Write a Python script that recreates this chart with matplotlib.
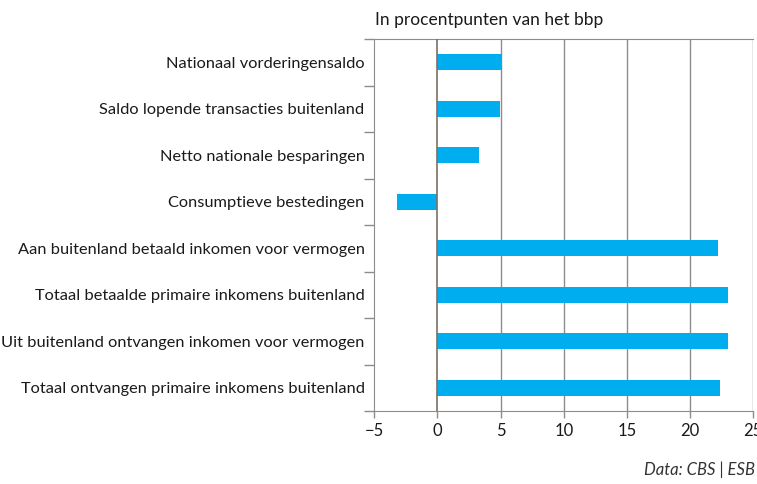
import numpy as np
import matplotlib.pyplot as plt

categories = [
    "Nationaal vorderingensaldo",
    "Saldo lopende transacties buitenland",
    "Netto nationale besparingen",
    "Consumptieve bestedingen",
    "Aan buitenland betaald inkomen voor vermogen",
    "Totaal betaalde primaire inkomens buitenland",
    "Uit buitenland ontvangen inkomen voor vermogen",
    "Totaal ontvangen primaire inkomens buitenland",
]
values = [5.1, 4.95, 3.3, -3.2, 22.2, 23.0, 23.0, 22.4]
xticks = [-5, 0, 5, 10, 15, 20, 25]

plt.rcParams['font.family'] = ['Lato', 'DejaVu Sans']

fig = plt.figure(figsize=(7.57, 4.84), dpi=100)
ax = fig.add_axes([374.3/757, 1-411/484, (753.3-374.3)/757, (411-39)/484])

y = np.arange(len(categories))
ax.barh(y, values, height=0.34, color='#00AEEF', zorder=3)

ax.set_xlim(-5, 25)
ax.set_ylim(len(categories)-0.5, -0.5)

# grid lines
for t in xticks[2:]:
    ax.axvline(t, color='#8c8c8c', lw=1, zorder=1)
ax.axvline(0, color='#7a6f68', lw=1.2, zorder=4)

ax.set_xticks(xticks)
ax.set_xticklabels([str(t).replace('-', '\u2212') for t in xticks], fontsize=12,
                   color='#1a1a1a')
ax.set_yticks(y)
ax.set_yticklabels(categories, fontsize=11.8, color='#1a1a1a')
ax.set_yticks(np.arange(-0.5, len(categories)), minor=True)
ax.tick_params(axis='y', which='major', length=0, pad=7)
ax.tick_params(axis='y', which='minor', length=7, color='#8c8c8c', width=1)
ax.tick_params(axis='x', length=5, color='#8c8c8c', width=1, pad=4)

for s in ['left', 'bottom', 'top']:
    ax.spines[s].set_color('#8c8c8c')
ax.spines['right'].set_visible(False)

fig.text(375/757, 1-20/484, "In procentpunten van het bbp", fontsize=12.5,
         ha='left', va='center', color='#1a1a1a')
fig.text(755/757, 1-470/484, "Data: CBS | ESB", fontsize=12, style='italic',
         ha='right', va='center', color='#333333')

fig.savefig('out.png', dpi=100)
